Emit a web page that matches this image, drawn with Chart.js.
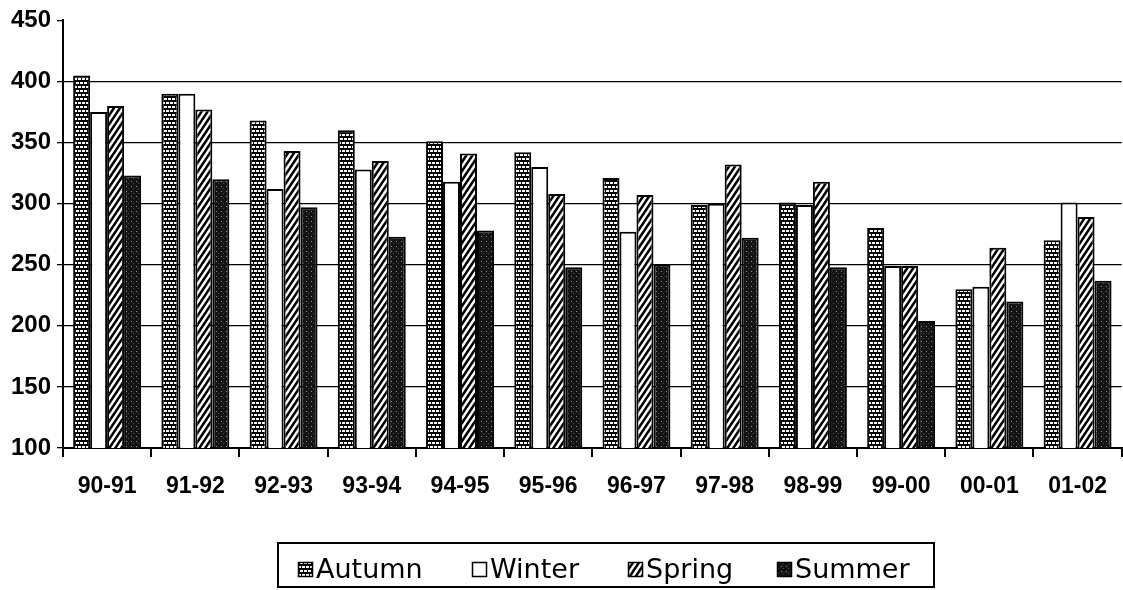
<!DOCTYPE html>
<html>
<head>
<meta charset="utf-8">
<script src="https://cdn.jsdelivr.net/npm/chart.js@4.4.0/dist/chart.umd.min.js"></script>
<style>
  html, body { margin: 0; padding: 0; background: #fff; }
  #chart { display: block; }
</style>
</head>
<body>
<canvas id="chart" width="1123" height="590"></canvas>
<script>
var years = ['90-91', '91-92', '92-93', '93-94', '94-95', '95-96', '96-97', '97-98', '98-99', '99-00', '00-01', '01-02'];
var seasons = ['Autumn', 'Winter', 'Spring', 'Summer'];
var autumn = [405, 390, 368, 360, 351, 342, 321, 299, 301, 280, 230, 270];
var winter = [375, 390, 312, 328, 318, 330, 277, 300, 299, 249, 232, 301];
var spring = [380, 377, 343, 335, 341, 308, 307, 332, 318, 249, 264, 289];
var summer = [323, 320, 297, 273, 278, 248, 250, 272, 248, 204, 220, 237];
var yTicks = [100, 150, 200, 250, 300, 350, 400, 450];

// fill patterns, like the old b/w print
function makeTile(w, h, draw) {
  var c = document.createElement('canvas');
  c.width = w;
  c.height = h;
  draw(c.getContext('2d'));
  return document.createElement('canvas').getContext('2d').createPattern(c, 'repeat');
}

var brick = makeTile(8, 8, function (x) {
  x.fillStyle = '#000';
  x.fillRect(0, 0, 8, 8);
  x.fillStyle = '#fff';
  x.fillRect(0, 2, 3, 2);
  x.fillRect(4, 2, 3, 2);
  x.fillRect(2, 6, 3, 2);
  x.fillRect(6, 6, 2, 2);
  x.fillRect(0, 6, 1, 2);
});

var hatch = makeTile(6, 9, function (x) {
  x.fillStyle = '#fff';
  x.fillRect(0, 0, 6, 9);
  x.strokeStyle = '#000';
  x.lineWidth = 2.6;
  x.beginPath();
  x.moveTo(-2, 12); x.lineTo(8, -3);
  x.moveTo(-8, 12); x.lineTo(2, -3);
  x.moveTo(4, 12); x.lineTo(14, -3);
  x.stroke();
});

var stipple = makeTile(5, 5, function (x) {
  x.fillStyle = '#141414';
  x.fillRect(0, 0, 5, 5);
  x.fillStyle = '#8c8c8c';
  x.fillRect(1, 1, 1, 1);
  x.fillStyle = '#4a4a4a';
  x.fillRect(3, 3, 1, 1);
});

var fills = [brick, '#fff', hatch, stipple];
var values = [autumn, winter, spring, summer];

var boxLegend = {
  id: 'boxLegend',
  afterDraw: function (chart) {
    var ctx = chart.ctx;
    var xs = [298, 472, 628, 777];
    ctx.save();
    ctx.strokeStyle = '#000';
    ctx.lineWidth = 2;
    ctx.strokeRect(278, 543, 656, 44);
    ctx.font = '27px "DejaVu Sans"';
    ctx.textBaseline = 'alphabetic';
    chart.data.datasets.forEach(function (ds, i) {
      ctx.fillStyle = ds.backgroundColor;
      ctx.fillRect(xs[i], 562, 15, 15);
      ctx.lineWidth = 1.5;
      ctx.strokeRect(xs[i] + 0.5, 562.5, 14, 14);
      ctx.fillStyle = '#000';
      ctx.fillText(ds.label, xs[i] + 18, 578);
    });
    ctx.restore();
  }
};

var tickFont = { family: '"Liberation Sans", Arial, sans-serif', size: 23, weight: 'bold' };

new Chart(document.getElementById('chart'), {
  type: 'bar',
  data: {
    labels: years,
    datasets: seasons.map(function (name, i) {
      return {
        label: name,
        data: values[i],
        backgroundColor: fills[i],
        borderColor: '#000',
        borderWidth: 2,
        borderSkipped: false,
        categoryPercentage: 0.77,
        barPercentage: 1
      };
    })
  },
  options: {
    responsive: false,
    animation: false,
    layout: { padding: { top: 19, left: 0, right: 0, bottom: 82 } },
    plugins: {
      legend: { display: false },
      tooltip: { enabled: true }
    },
    scales: {
      x: {
        grid: { display: true, drawOnChartArea: false, tickLength: 9, color: '#000', lineWidth: 2 },
        border: { color: '#000', width: 2 },
        ticks: { color: '#000', font: tickFont, padding: 16, maxRotation: 0, autoSkip: false },
        afterFit: function (scale) { scale.height = 60; }
      },
      y: {
        min: 100,
        max: 450,
        afterBuildTicks: function (scale) {
          scale.ticks = yTicks.map(function (v) { return { value: v }; });
        },
        grid: {
          color: function (c) { return c.tick && c.tick.value === 450 ? 'rgba(0,0,0,0)' : '#000'; },
          tickColor: '#000',
          tickLength: 6,
          lineWidth: 1.3
        },
        border: { color: '#000', width: 2 },
        ticks: { color: '#000', font: { family: tickFont.family, size: 24, weight: 'bold' }, padding: 6 },
        afterFit: function (scale) { scale.width = 63; }
      }
    }
  },
  plugins: [boxLegend]
});
</script>
</body>
</html>
